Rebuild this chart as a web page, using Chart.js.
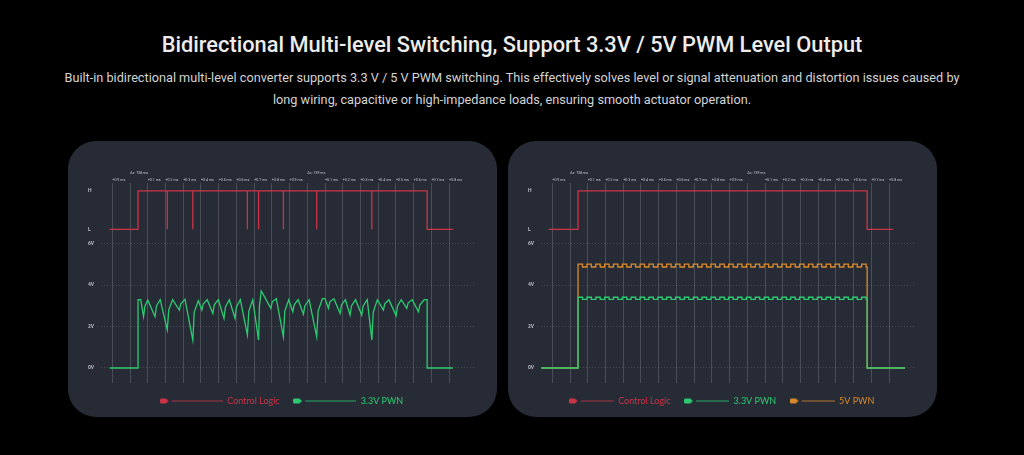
<!DOCTYPE html>
<html>
<head>
<meta charset="utf-8">
<title>Bidirectional Multi-level Switching</title>
<script src="https://cdn.jsdelivr.net/npm/chart.js@4.4.0/dist/chart.umd.min.js"></script>
<style>
  html, body { margin: 0; padding: 0; background: #000; }
  body { width: 1024px; height: 455px; position: relative; overflow: hidden; font-family: Roboto, 'Noto Sans', sans-serif; }
  h1 { position: absolute; left: 0; width: 1024px; top: 33px; margin: 0; text-align: center;
       font-size: 21.8px; line-height: 24px; font-weight: 500; color: #ececec; }
  p.lead { position: absolute; left: 0; width: 1024px; top: 67px; margin: 0; text-align: center;
           font-size: 12.7px; line-height: 22px; color: #d4d4d4; }
  .panel { position: absolute; top: 141px; width: 429px; height: 276px; border-radius: 28px; background: #262b36; }
  #p1 { left: 68px; }
  #p2 { left: 508px; }
</style>
</head>
<body>
<h1>Bidirectional Multi-level Switching, Support 3.3V / 5V PWM Level Output</h1>
<p class="lead">Built-in bidirectional multi-level converter supports 3.3 V / 5 V PWM switching. This effectively solves level or signal attenuation and distortion issues caused by<br>long wiring, capacitive or high-impedance loads, ensuring smooth actuator operation.</p>
<div class="panel" id="p1"><canvas id="c1"></canvas></div>
<div class="panel" id="p2"><canvas id="c2"></canvas></div>
<script>
// x values are grid divisions, 0 = first grid line
const xTickLabels = ['+0.9 ms', 'Δx: 758 ms', '+0.1 ms', '+0.2 ms', '+0.3 ms', '+0.4 ms', '+0.5 ms', '+0.6 ms',
  '+0.7 ms', '+0.8 ms', '+0.9 ms', 'Δx: 759 ms', '+0.1 ms', '+0.2 ms', '+0.3 ms', '+0.4 ms', '+0.5 ms',
  '+0.6 ms', '+0.7 ms', '+0.8 ms'];
const yTickValues = [0, 2, 4, 6];
const yTickLabels = ['0V', '2V', '4V', '6V'];
const logicLabels = ['L', 'H'];
const seriesNames = ['Control Logic', '3.3V PWN', '5V PWN'];

// left: control logic (0 = L, 1 = H)
const leftLogicTimes = [-0.15, 1.45, 3.10, 3.10, 4.54, 4.54, 7.62, 7.62, 8.25, 8.25, 9.65, 9.65,
  11.53, 11.53, 14.64, 14.64, 17.76, 19.22];
const leftLogicLevels = [0, 1, 0, 1, 0, 1, 0, 1, 0, 1, 0, 1, 0, 1, 0, 1, 0, 0];

// left: distorted 3.3V output
const leftPwmTimes = [-0.15, 1.45, 1.45, 1.60, 1.76, 1.84, 2.00, 2.41, 2.49, 2.70, 3.10, 3.18, 3.40,
  3.78, 3.86, 4.10, 4.54, 4.62, 4.85, 5.05, 5.13, 5.35, 5.67, 5.75, 5.98, 6.30, 6.38, 6.60,
  6.92, 7.00, 7.22, 7.62, 7.70, 7.92, 8.25, 8.30, 8.40, 8.55, 8.94, 9.02, 9.25, 9.65, 9.73, 9.95,
  10.18, 10.26, 10.48, 10.78, 10.86, 11.10, 11.53, 11.61, 11.85, 12.00, 12.19, 12.27, 12.50,
  12.85, 12.93, 13.15, 13.41, 13.49, 13.72, 14.07, 14.15, 14.38, 14.64, 14.72, 14.95,
  15.29, 15.37, 15.60, 16.01, 16.09, 16.30, 16.61, 16.69, 16.92, 17.27, 17.35, 17.60,
  17.76, 17.76, 19.22];
const leftPwmVolts = [0, 0, 3.3, 3.3, 2.48, 3.0, 3.28, 2.48, 3.0, 3.3, 1.84, 2.8, 3.3,
  2.8, 3.1, 3.32, 1.35, 2.7, 3.25, 2.8, 3.1, 3.3, 2.64, 3.05, 3.3, 2.4, 2.95, 3.3,
  2.4, 2.95, 3.3, 1.6, 2.75, 3.3, 1.35, 3.0, 3.72, 3.5, 2.88, 3.2, 3.35, 1.51, 2.75, 3.3,
  2.72, 3.05, 3.3, 2.6, 3.0, 3.3, 1.51, 2.75, 3.35, 3.35, 2.88, 3.2, 3.35,
  2.64, 3.05, 3.3, 2.56, 3.0, 3.3, 2.56, 3.0, 3.3, 1.35, 2.7, 3.3,
  2.8, 3.1, 3.3, 2.53, 3.0, 3.3, 2.88, 3.15, 3.3, 2.72, 3.05, 3.3,
  3.3, 0, 0];

// right: control logic
const rightLogicTimes = [-0.2, 1.45, 17.76, 19.22];
const rightLogicLevels = [0, 1, 0, 0];

// right: clean 3.3V and 5V outputs, edges of the small ripple
const rightPwmTimes = [-0.62,
  1.45, 1.70, 1.95, 2.20, 2.45, 2.70, 2.95, 3.20, 3.45, 3.70, 3.95, 4.20, 4.45, 4.70, 4.95, 5.20,
  5.45, 5.70, 5.95, 6.20, 6.45, 6.70, 6.95, 7.20, 7.45, 7.70, 7.95, 8.20, 8.45, 8.70, 8.95, 9.20,
  9.45, 9.70, 9.95, 10.20, 10.45, 10.70, 10.95, 11.20, 11.45, 11.70, 11.95, 12.20, 12.45, 12.70,
  12.95, 13.20, 13.45, 13.70, 13.95, 14.20, 14.45, 14.70, 14.95, 15.20, 15.45, 15.70, 15.95,
  16.20, 16.45, 16.70, 16.95, 17.20, 17.45, 17.70,
  17.76, 19.9];
const right33Volts = [0,
  3.42, 3.32, 3.42, 3.32, 3.42, 3.32, 3.42, 3.32, 3.42, 3.32, 3.42, 3.32, 3.42, 3.32, 3.42, 3.32,
  3.42, 3.32, 3.42, 3.32, 3.42, 3.32, 3.42, 3.32, 3.42, 3.32, 3.42, 3.32, 3.42, 3.32, 3.42, 3.32,
  3.42, 3.32, 3.42, 3.32, 3.42, 3.32, 3.42, 3.32, 3.42, 3.32, 3.42, 3.32, 3.42, 3.32,
  3.42, 3.32, 3.42, 3.32, 3.42, 3.32, 3.42, 3.32, 3.42, 3.32, 3.42, 3.32, 3.42,
  3.32, 3.42, 3.32, 3.42, 3.32, 3.42, 3.32,
  0, 0];
const right5Volts = [0,
  5.02, 4.88, 5.02, 4.88, 5.02, 4.88, 5.02, 4.88, 5.02, 4.88, 5.02, 4.88, 5.02, 4.88, 5.02, 4.88,
  5.02, 4.88, 5.02, 4.88, 5.02, 4.88, 5.02, 4.88, 5.02, 4.88, 5.02, 4.88, 5.02, 4.88, 5.02, 4.88,
  5.02, 4.88, 5.02, 4.88, 5.02, 4.88, 5.02, 4.88, 5.02, 4.88, 5.02, 4.88, 5.02, 4.88,
  5.02, 4.88, 5.02, 4.88, 5.02, 4.88, 5.02, 4.88, 5.02, 4.88, 5.02, 4.88, 5.02,
  4.88, 5.02, 4.88, 5.02, 4.88, 5.02, 4.88,
  0, 0];

// where L and H sit on the shared y axis
const LOGIC_POS = [6.7, 8.56];
const RED = '#cc3446', GREEN = '#2ccb72', ORANGE = '#d98a2c';

const toPoints = (xs, ys) => xs.map((x, i) => ({ x: x, y: ys[i] }));
const logicPoints = (xs, ls) => xs.map((x, i) => ({ x: x, y: LOGIC_POS[ls[i]] }));

function legendIcon(color, len) {
  const c = document.createElement('canvas');
  c.width = len; c.height = 7;
  const g = c.getContext('2d');
  g.fillStyle = color;
  g.beginPath();
  g.moveTo(2, 1); g.lineTo(6, 1); g.lineTo(9, 3.5); g.lineTo(6, 6); g.lineTo(2, 6);
  g.arc(2, 3.5, 2.5, Math.PI / 2, Math.PI * 1.5);
  g.closePath();
  g.fill();
  g.globalAlpha = 0.8;
  g.strokeStyle = color; g.lineWidth = 1.2;
  g.beginPath(); g.moveTo(12, 3.5); g.lineTo(len, 3.5); g.stroke();
  return c;
}

function line(label, color, points, stepped) {
  return { label: label, data: points, borderColor: color, backgroundColor: color, borderWidth: 1.3,
    pointRadius: 0, tension: 0, stepped: stepped, fill: false };
}

function buildChart(id, datasets, iconLen) {
  return new Chart(document.getElementById(id), {
    type: 'line',
    data: { datasets: datasets },
    options: {
      responsive: true,
      maintainAspectRatio: false,
      animation: false,
      layout: { padding: { left: 20, right: 22, top: 28, bottom: 1.5 } },
      plugins: {
        tooltip: { enabled: false },
        legend: {
          position: 'bottom',
          labels: {
            usePointStyle: true,
            pointStyleWidth: iconLen,
            padding: 13.5,
            font: { family: 'Lato', size: 9 },
            generateLabels: chart => chart.data.datasets.map((ds, i) => ({
              text: ds.label, fontColor: ds.borderColor, pointStyle: legendIcon(ds.borderColor, iconLen),
              datasetIndex: i, hidden: false, lineWidth: 0, strokeStyle: 'transparent', fillStyle: 'transparent'
            }))
          }
        }
      },
      scales: {
        x: {
          type: 'linear', position: 'top', min: -0.64, max: 20.46,
          afterBuildTicks: s => { s.ticks = xTickLabels.map((t, i) => ({ value: i })); },
          afterFit: s => { s.height = 14; },
          ticks: {
            autoSkip: false, maxRotation: 0, align: 'start', padding: 0, color: '#c3c7cf',
            font: { family: 'Roboto', size: 3.6, lineHeight: 1.85 },
            callback: (v, i) => xTickLabels[i].startsWith('Δx') ? [xTickLabels[i], ''] : ['', xTickLabels[i]]
          },
          grid: { color: 'rgba(255,255,255,0.17)', drawTicks: false },
          border: { display: false }
        },
        y: {
          min: -0.725, max: 8.94,
          afterBuildTicks: s => { s.ticks = yTickValues.concat(LOGIC_POS).map(v => ({ value: v })); },
          afterFit: s => { s.width = 13; },
          ticks: {
            crossAlign: 'far', padding: 0, color: '#b9bdc6',
            font: { family: 'Roboto', size: 5, weight: 'bold' },
            callback: (v, i) => i < yTickLabels.length ? yTickLabels[i] : logicLabels[i - yTickLabels.length]
          },
          grid: { color: c => c.index < yTickLabels.length ? 'rgba(255,255,255,0.15)' : 'transparent', drawTicks: false },
          border: { display: false, dash: [1, 2] }
        }
      }
    }
  });
}

buildChart('c1', [
  line(seriesNames[0], RED, logicPoints(leftLogicTimes, leftLogicLevels), true),
  line(seriesNames[1], GREEN, toPoints(leftPwmTimes, leftPwmVolts), false)
], 63);

buildChart('c2', [
  line(seriesNames[0], RED, logicPoints(rightLogicTimes, rightLogicLevels), true),
  line(seriesNames[1], GREEN, toPoints(rightPwmTimes, right33Volts), true),
  line(seriesNames[2], ORANGE, toPoints(rightPwmTimes, right5Volts), true)
], 45);
</script>
</body>
</html>
